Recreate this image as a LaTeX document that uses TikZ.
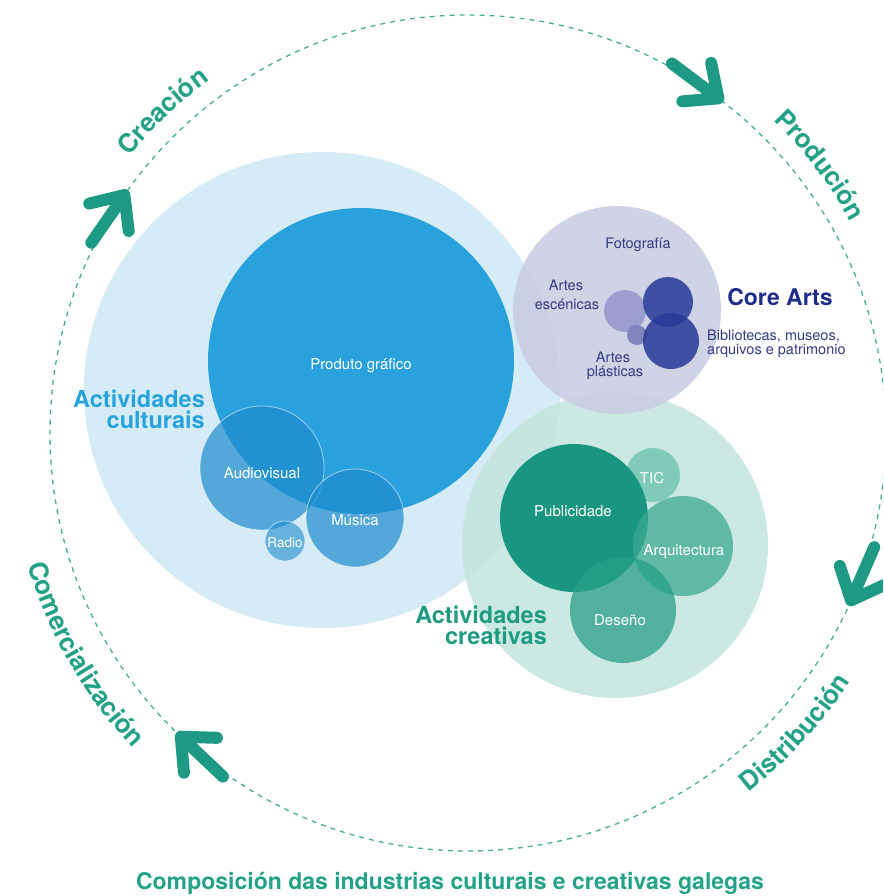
\documentclass[tikz,border=0pt]{standalone}
\usepackage{fontspec}
\setmainfont{TeX Gyre Heros}
\usetikzlibrary{decorations.text,calc}

\definecolor{cyc}{RGB}{30,154,132}
\definecolor{cyctext}{RGB}{36,162,136}
\definecolor{dashc}{RGB}{70,175,150}
\definecolor{lblue}{RGB}{213,236,247}
\definecolor{pblue}{RGB}{41,161,221}
\definecolor{mblue}{RGB}{30,140,205}
\definecolor{culttext}{RGB}{40,163,222}
\definecolor{coregrey}{RGB}{200,205,226}
\definecolor{lav}{RGB}{145,150,203}
\definecolor{lavdark}{RGB}{120,126,184}
\definecolor{navy}{RGB}{38,58,150}
\definecolor{coretext}{RGB}{30,45,140}
\definecolor{smalltext}{RGB}{50,60,130}
\definecolor{lteal}{RGB}{195,228,222}
\definecolor{pteal}{RGB}{25,150,128}
\definecolor{tict}{RGB}{110,195,175}
\definecolor{arqt}{RGB}{60,170,145}
\definecolor{dest}{RGB}{40,160,135}
\definecolor{creatext}{RGB}{30,155,128}

\newcommand\cycfont{\bfseries\fontsize{26}{26}\selectfont\color{cyctext}}

\tikzset{
  bubble/.style={circle, inner sep=0pt, outer sep=0pt},
  subbubble/.style={bubble, draw=white, draw opacity=0.55, line width=0.8pt},
  wlabel/.style={text=white, font=\fontsize{15}{15}\selectfont, anchor=base, inner sep=0pt},
  blabel/.style={text=smalltext, font=\fontsize{14.5}{14.5}\selectfont, anchor=base, inner sep=0pt},
  grouplabel/.style={font=\bfseries\fontsize{23.5}{23.5}\selectfont, anchor=base east, inner sep=0pt},
  cycarrow/.style={draw=cyc, line width=12pt, line cap=round, line join=round},
  cycpath/.style={color=cyctext, decorate, decoration={text along path, text align=center, text={|\cycfont|#1}}},
  dashring/.style={draw=dashc, line width=1.3pt, dash pattern=on 5pt off 5pt}
}

\begin{document}
\begin{tikzpicture}[x=1pt,y=1pt]
\useasboundingbox (0,0) rectangle (883,-896);
\clip (0,0) rectangle (883,-896);

\coordinate (C) at (468,-433);

% cycle ring
\draw[dashring] (C) circle[radius=418];

% big group circles
\node[bubble, fill=lblue, minimum size=476pt] (cultural) at (322,-390) {};
\node[bubble, fill=lteal, fill opacity=0.85, minimum size=306pt] (creative) at (615,-545) {};
\node[bubble, fill=coregrey, fill opacity=0.88, minimum size=208pt] (core) at (617,-310) {};

% cultural activities
\node[bubble, fill=pblue, minimum size=306pt] (produto) at (361,-361) {};
\node[subbubble, fill=mblue, fill opacity=0.7, minimum size=124pt] (audiovisual) at (262,-468) {};
\node[subbubble, fill=mblue, fill opacity=0.7, minimum size=98pt] (musica) at (355,-518) {};
\node[subbubble, fill=mblue, fill opacity=0.6, minimum size=40pt] (radio) at (285,-541) {};

\node[wlabel] (tprodu) at (361,-369) {Produto gráfico};
\node[wlabel] (taudio) at (262,-478) {Audiovisual};
\node[wlabel] (tmus) at (355,-525) {Música};
\node[wlabel, font=\fontsize{13.5}{13.5}\selectfont] (trad) at (285,-547) {Radio};

% core arts
\node[bubble, fill=lav, fill opacity=0.85, minimum size=42pt] (escenicas) at (625,-311) {};
\node[bubble, fill=lavdark, fill opacity=0.9, minimum size=20pt] (plasticas) at (637,-335) {};
\node[bubble, fill=navy, fill opacity=0.85, minimum size=50pt] (fotografia) at (668,-302) {};
\node[bubble, fill=navy, fill opacity=0.85, minimum size=56pt] (bibliotecas) at (671,-341) {};

\node[blabel] (tfoto) at (638,-248) {Fotografía};
\node[blabel] (tesc1) at (566,-290) {Artes};
\node[blabel] (tesc2) at (567,-309) {escénicas};
\node[blabel] (tpla1) at (613,-362) {Artes};
\node[blabel] (tpla2) at (615,-376) {plásticas};
\node[font=\bfseries\fontsize{23}{23}\selectfont, text=coretext, anchor=base, inner sep=0pt] (tcore) at (780,-305) {Core Arts};
\node[blabel, anchor=base west] (tbib1) at (707,-340) {Bibliotecas, museos,};
\node[blabel, anchor=base west] (tbib2) at (707,-354) {arquivos e patrimonio};

% creative activities
\node[bubble, fill=tict, fill opacity=0.8, minimum size=54pt] (tic) at (653,-475) {};
\node[bubble, fill=pteal, minimum size=148pt] (publicidade) at (574,-518) {};
\node[bubble, fill=arqt, fill opacity=0.75, minimum size=100pt] (arquitectura) at (683,-546) {};
\node[bubble, fill=dest, fill opacity=0.75, minimum size=106pt] (deseno) at (623,-610) {};

\node[wlabel] (tpub) at (573,-516) {Publicidade};
\node[wlabel] (ttic) at (652,-483) {TIC};
\node[wlabel] (tarq) at (684,-555) {Arquitectura};
\node[wlabel] (tdes) at (620,-625) {Deseño};

% group labels
\node[grouplabel, text=culttext] (tcult1) at (205,-407) {Actividades};
\node[grouplabel, text=culttext] (tcult2) at (205,-428) {culturais};
\node[grouplabel, text=creatext] (tcrea1) at (547,-623) {Actividades};
\node[grouplabel, text=creatext] (tcrea2) at (547,-644) {creativas};

% cycle labels along the ring
\path[cycpath=Creación] ([shift={(153.5:437)}]C) arc[start angle=153.5, end angle=113.5, radius=437];
\path[cycpath=Produción] ([shift={(57.3:437)}]C) arc[start angle=57.3, end angle=17.3, radius=437];
\path[cycpath=Distribución] ([shift={(-67.5:456)}]C) arc[start angle=-67.5, end angle=-17.5, radius=456];
\path[cycpath=Comercialización] ([shift={(182:460)}]C) arc[start angle=182, end angle=238, radius=460];

% cycle arrows
\draw[cycarrow, shift={($(C)+(145.3:418)$)}, rotate=55.3] (-58,0) -- (0,0) (-27,24) -- (0,0) -- (-27,-24);
\draw[cycarrow, shift={($(C)+(53.2:418)$)}, rotate=-36.8] (-58,0) -- (0,0) (-27,24) -- (0,0) -- (-27,-24);
\draw[cycarrow, shift={($(C)+(-23.6:418)$)}, rotate=-113.6] (-58,0) -- (0,0) (-27,24) -- (0,0) -- (-27,-24);
\draw[cycarrow, shift={($(C)+(226.6:418)$)}, rotate=136.6] (-58,0) -- (0,0) (-27,24) -- (0,0) -- (-27,-24);

% title
\node[font=\bfseries\fontsize{23}{23}\selectfont, text=cyctext, anchor=base, inner sep=0pt] (title) at (450,-889) {Composición das industrias culturais e creativas galegas};
\end{tikzpicture}
\end{document}
